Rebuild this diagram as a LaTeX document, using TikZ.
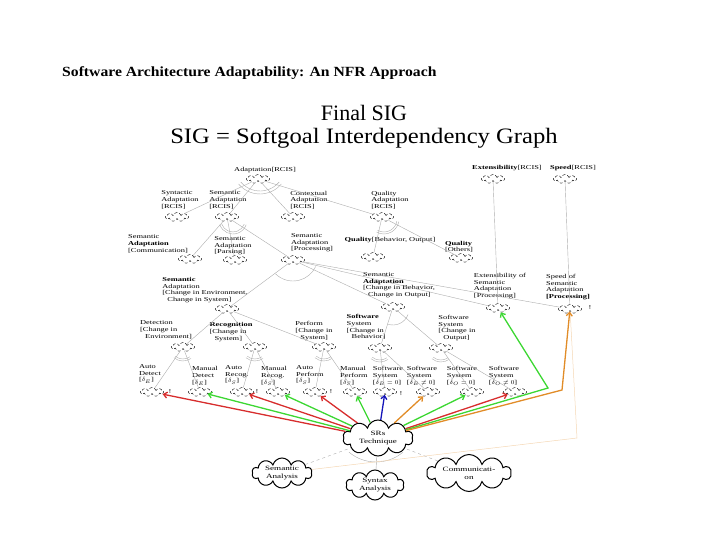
\documentclass[tikz,border=0pt]{standalone}
\usepackage{fontspec}
\setmainfont{Liberation Serif}
\newfontfamily\sigfont[FakeStretch=1.4]{Liberation Serif}
\newfontfamily\headfont[FakeStretch=1.12]{Liberation Serif}
\usetikzlibrary{shapes.symbols,arrows.meta}
\definecolor{sigred}{RGB}{215,45,45}
\definecolor{siggreen}{RGB}{60,215,50}
\definecolor{sigblue}{RGB}{20,20,185}
\definecolor{sigorange}{RGB}{225,140,40}
\begin{document}
\begin{tikzpicture}[x=1pt, y=-1pt,
  goal/.style={cloud, cloud puffs=9, aspect=2.2, draw, densely dashed, line width=0.4pt,
    minimum width=23pt, minimum height=9pt, inner sep=0pt},
  bigcloud/.style={cloud, cloud puffs=10, cloud ignores aspect, draw, line width=1pt, align=center,
    font=\sigfont\fontsize{6.5}{8}\selectfont, inner sep=0pt},
  lbl/.style={font=\sigfont\fontsize{6}{6.6}\selectfont, align=left, inner sep=0pt},
  link/.style={gray!65, line width=0.4pt},
  sat/.style={line width=1.3pt, -{Straight Barb[length=3.5pt,width=6pt]}}]
  \useasboundingbox (0,0) rectangle (720,540);
  % titles
  \node[font=\headfont\bfseries\fontsize{14}{16}\selectfont, anchor=west, inner sep=0pt] (title) at (62,73) {Software Architecture Adaptability: An NFR Approach};
  \node[font=\fontsize{22}{24}\selectfont, inner sep=0pt] (final) at (364,113) {Final SIG};
  \node[font=\headfont\fontsize{22}{24}\selectfont, inner sep=0pt] (sigdef) at (364,138) {SIG = Softgoal Interdependency Graph};
  % top softgoals
  \node[goal] (adapt) at (258,179) {};
  \node[lbl] (adaptl) at (265,170) {Adaptation[RCIS]};
  \node[goal] (ext) at (493,179) {};
  \node[lbl] (extl) at (507,168) {\textbf{Extensibility}[RCIS]};
  \node[goal] (speed) at (565,179) {};
  \node[lbl] (speedl) at (573,168) {\textbf{Speed}[RCIS]};
  % second row
  \node[goal] (syn) at (177,217) {};
  \node[lbl] (synl) at (180,200) {Syntactic\\Adaptation\\{}[RCIS]};
  \node[goal] (semrcis) at (227,217) {};
  \node[lbl] (semrcisl) at (228,200) {Semantic\\Adaptation\\{}[RCIS]};
  \node[goal] (ctx) at (293,217) {};
  \node[lbl] (ctxl) at (309,200) {Contextual\\Adaptation\\{}[RCIS]};
  \node[goal] (qual) at (382,217) {};
  \node[lbl] (quall) at (390,200) {Quality\\Adaptation\\{}[RCIS]};
  % third row
  \node[goal] (comm) at (190,259) {};
  \node[lbl] (comml) at (158,244) {Semantic\\\textbf{Adaptation}\\{}[Communication]};
  \node[goal] (pars) at (235,260) {};
  \node[lbl] (parsl) at (233,246) {Semantic\\Adaptation\\{}[Parsing]};
  \node[goal] (proc) at (293,260) {};
  \node[lbl] (procl) at (312,243) {Semantic\\Adaptation\\{}[Processing]};
  \node[goal] (qbo) at (373,257) {};
  \node[lbl] (qbol) at (390,240) {\textbf{Quality}[Behavior, Output]};
  \node[goal] (qoth) at (461,258) {};
  \node[lbl] (qothl) at (459,247) {\textbf{Quality}\\{}[Others]};
  % fourth row
  \node[goal] (chgenv) at (227,309) {};
  \node[lbl] (chgenvl) at (205,290) {\textbf{Semantic}\\Adaptation\\{}[Change in Environment,\\\hspace*{5pt}Change in System]};
  \node[goal] (chgbeh) at (393,307) {};
  \node[lbl] (chgbehl) at (399,285) {Semantic\\\textbf{Adaptation}\\{}[Change in Behavior,\\\hspace*{5pt}Change in Output]};
  \node[goal] (extsem) at (498,308) {};
  \node[lbl] (extseml) at (500,286) {Extensibility of\\Semantic\\Adaptation\\{}[Processing]};
  \node[goal] (speedsem) at (570,309) {};
  \node[lbl] (speedseml) at (568,287) {Speed of\\Semantic\\Adaptation\\\textbf{[Processing]}};
  \node[lbl] (speedsemx) at (590,308) {!};
  % fifth row
  \node[goal] (det) at (183,347) {};
  \node[lbl] (detl) at (166,330) {Detection\\{}[Change in\\\hspace*{5pt}Environment]};
  \node[goal] (rec) at (255,347) {};
  \node[lbl] (recl) at (231,332) {\textbf{Recognition}\\{}[Change in\\\hspace*{5pt}System]};
  \node[goal] (perf) at (324,347) {};
  \node[lbl] (perfl) at (314,331) {Perform\\{}[Change in\\\hspace*{5pt}System]};
  \node[goal] (ssb) at (380,348) {};
  \node[lbl] (ssbl) at (366,327) {\textbf{Software}\\System\\{}[Change in\\\hspace*{5pt}Behavior]};
  \node[goal] (sso) at (441,348) {};
  \node[lbl] (ssol) at (457,328) {Software\\System\\{}[Change in\\\hspace*{5pt}Output]};
  % operationalizing softgoals
  \node[goal] (adet) at (152,392) {};
  \node[lbl] (adetl) at (150,374) {Auto\\Detect\\{}[$\delta_E$]};
  \node[lbl] (adetx) at (170,392) {!};
  \node[goal] (mdet) at (200,392) {};
  \node[lbl] (mdetl) at (205,376) {Manual\\Detect\\{}[$\delta_E$]};
  \node[goal] (arec) at (242,392) {};
  \node[lbl] (arecl) at (237,375) {Auto\\Recog.\\{}[$\delta_S$]};
  \node[lbl] (arecx) at (257,392) {!};
  \node[goal] (mrec) at (278,392) {};
  \node[lbl] (mrecl) at (274,376) {Manual\\Recog.\\{}[$\delta_S$]};
  \node[goal] (aperf) at (315,392) {};
  \node[lbl] (aperfl) at (310,375) {Auto\\Perform\\{}[$\delta_S$]};
  \node[lbl] (aperfx) at (331,392) {!};
  \node[goal] (mperf) at (355,392) {};
  \node[lbl] (mperfl) at (354,376) {Manual\\Perform\\{}[$\delta_S$]};
  \node[goal] (bzero) at (385,392) {};
  \node[lbl] (bzerol) at (388,376) {Software\\System\\{}[$\delta_B = 0$]};
  \node[lbl] (bzerox) at (401,394) {!};
  \node[goal] (bnonz) at (428,392) {};
  \node[lbl] (bnonzl) at (422,376) {Software\\System\\{}[$\delta_B \neq 0$]};
  \node[goal] (ozero) at (472,392) {};
  \node[lbl] (ozerol) at (462,376) {Software\\System\\{}[$\delta_O = 0$]};
  \node[goal] (ononz) at (515,392) {};
  \node[lbl] (ononzl) at (504,376) {Software\\System\\{}[$\delta_O \neq 0$]};
  % techniques
  \node[bigcloud, minimum width=70pt, minimum height=36pt] (srs) at (378,438) {SRs\\Technique};
  \node[bigcloud, minimum width=60pt, minimum height=30pt] (semana) at (282,473) {Semantic\\Analysis};
  \node[bigcloud, minimum width=58pt, minimum height=30pt] (synana) at (375,485) {Syntax\\Analysis};
  \node[bigcloud, minimum width=84pt, minimum height=37pt] (commana) at (469,473) {Communicati-\\on};
  % decompositions
  \foreach \c/\p in {syn/adapt, semrcis/adapt, ctx/adapt, qual/adapt,
      comm/semrcis, pars/semrcis, proc/semrcis, qbo/qual, qoth/qual,
      extsem/ext, speedsem/speed, chgenv/proc, chgbeh/proc, extsem/proc, speedsem/proc,
      det/chgenv, rec/chgenv, perf/chgenv, ssb/chgbeh, sso/chgbeh,
      adet/det, mdet/det, arec/rec, mrec/rec, aperf/perf, mperf/perf,
      bzero/ssb, bnonz/ssb, ozero/sso, ononz/sso}
    \draw[link] (\c) -- (\p);
  \draw[link] (260,166) ++(140:28) arc[start angle=140, end angle=40, radius=28];
  \draw[link] (260,166) ++(140:25) arc[start angle=140, end angle=40, radius=25];
  \draw[link] (233,220) ++(160:12) arc[start angle=160, end angle=20, radius=12];
  \draw[link] (233,220) ++(160:14) arc[start angle=160, end angle=20, radius=14];
  \draw[link] (384,219) ++(120:13) arc[start angle=120, end angle=10, radius=13];
  \draw[link] (384,219) ++(120:15) arc[start angle=120, end angle=10, radius=15];
  \draw[link] (293,256) ++(135:25) arc[start angle=135, end angle=25, radius=25];
  \draw[link] (393,309) ++(110:16) arc[start angle=110, end angle=20, radius=16];
  \foreach \p in {det, rec, perf, ssb, sso} {
    \draw[link] (\p) ++(130:12) arc[start angle=130, end angle=55, radius=12];
    \draw[link] (\p) ++(130:14) arc[start angle=130, end angle=55, radius=14];
  }
  % technique refinements
  \draw[link, dashed] (semana) -- (srs);
  \draw[link] (synana) -- (srs);
  \draw[link, dashed] (commana) -- (srs);
  \draw[link] (376,420) ++(130:42) arc[start angle=130, end angle=50, radius=42];
  \coordinate (palebend) at (577,438);
  \draw[sigorange!35, line width=0.5pt] (semana) -- (palebend) -- (speedsem);
  % contributions
  \draw[sat, sigred] (srs) -- (adet);
  \draw[sat, siggreen] (srs) -- (mdet);
  \draw[sat, sigred] (srs) -- (arec);
  \draw[sat, siggreen] (srs) -- (mrec);
  \draw[sat, sigred] (srs) -- (aperf);
  \draw[sat, siggreen] (srs) -- (mperf);
  \draw[sat, sigblue] (srs) -- (bzero);
  \draw[sat, sigorange] (srs) -- (bnonz);
  \draw[sat, siggreen] (srs) -- (ozero);
  \draw[sat, sigred] (srs) -- (ononz);
  \coordinate (greenbend) at (548,388);
  \draw[sat, siggreen] (srs) -- (greenbend) -- (extsem);
  \coordinate (orangebend) at (562,390);
  \draw[sat, sigorange] (srs) -- (orangebend) -- (speedsem);
\end{tikzpicture}
\end{document}
